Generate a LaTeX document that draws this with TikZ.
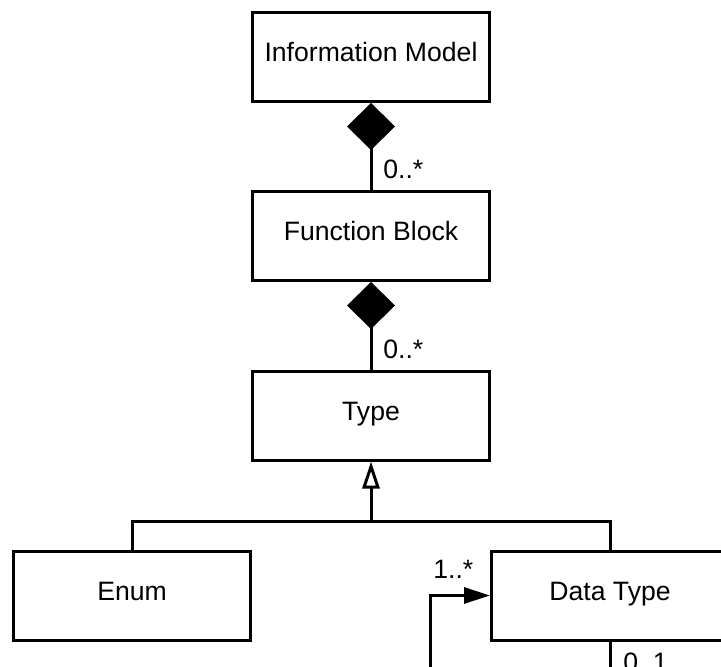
\documentclass[tikz,border=0pt]{standalone}
\usepackage{fontspec}
\setmainfont{Liberation Sans}
\usetikzlibrary{arrows.meta,calc}
\begin{document}
\begin{tikzpicture}[x=0.5pt,y=-0.5pt,
  txt/.style={font=\fontsize{13.3pt}{16pt}\selectfont},
  cls/.style={txt, draw, line width=1.5pt, minimum width=118.5pt,
              minimum height=44.5pt, inner sep=0pt,
              text height=0.72em, text depth=0.25em},
  lnk/.style={line width=1.5pt},
  mult/.style={txt, anchor=base west, inner sep=0pt},
  compo/.style={lnk, -{Diamond[length=23.5pt,width=24pt]}},
  generalise/.style={lnk, -{Triangle[open,fill=white,length=13.5pt,width=8.5pt]}},
  navig/.style={lnk, -{Triangle[length=13pt,width=8pt]}}]
\clip (0,0) rectangle (721,667);

% classes
\node[cls] (im) at (371,57)    {Information Model};
\node[cls] (fb) at (371,236)   {Function Block};
\node[cls] (ty) at (371,415.5) {Type};
\node[cls] (en) at (132,595.5) {Enum};
\node[cls] (dt) at (610,595.5) {Data Type};

% composition links
\draw[compo] (fb.north) -- (im.south);
\node[mult] at ($(fb.north)+(12,-11)$) {0..*};
\draw[compo] (ty.north) -- (fb.south);
\node[mult] at ($(ty.north)+(12,-11)$) {0..*};

% generalisation tree
\coordinate (bus) at (371,521);
\draw[generalise] (bus) -- (ty.south);
\draw[lnk] (en.north) |- (bus) -| (dt.north);

% self association of Data Type
\coordinate (lp) at (430,710);
\draw[navig] (dt.south) |- (lp) |- (dt.west);
\node[mult] at ($(dt.west)+(-57,-17.5)$) {1..*};
\node[mult] at ($(dt.south)+(13,30)$) {0..1};
\end{tikzpicture}
\end{document}
